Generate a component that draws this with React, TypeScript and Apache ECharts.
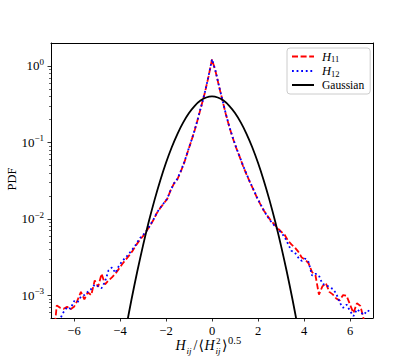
import React, { useEffect, useRef } from 'react';
import * as echarts from 'echarts';

// ---------- data ----------
const xValues = [
  -6.9, -6.75, -6.6, -6.45, -6.3, -6.15, -6.0, -5.85, -5.7, -5.55,
  -5.4, -5.25, -5.1, -4.95, -4.8, -4.65, -4.5, -4.35, -4.2, -4.05,
  -3.9, -3.75, -3.6, -3.45, -3.3, -3.15, -3.0, -2.85, -2.7, -2.55,
  -2.4, -2.25, -2.1, -1.95, -1.8, -1.65, -1.5, -1.35, -1.2, -1.05,
  -0.9, -0.75, -0.6, -0.45, -0.3, -0.15, 0,
  0.15, 0.3, 0.45, 0.6, 0.75, 0.9, 1.05, 1.2, 1.35, 1.5,
  1.65, 1.8, 1.95, 2.1, 2.25, 2.4, 2.55, 2.7, 2.85, 3.0,
  3.15, 3.3, 3.45, 3.6, 3.75, 3.9, 4.05, 4.2, 4.35, 4.5,
  4.65, 4.8, 4.95, 5.1, 5.25, 5.4, 5.55, 5.7, 5.85, 6.0,
  6.15, 6.3, 6.45, 6.6, 6.75, 6.9,
];

const h11Values = [
  2.5e-4, 7.3e-4, 6.8e-4, 6.6e-4, 7.0e-4, 6.5e-4, 7.0e-4, 8.5e-4, 1.1e-3, 8.8e-4,
  1.08e-3, 1.0e-3, 1.55e-3, 1.28e-3, 1.9e-3, 1.38e-3, 1.55e-3, 1.7e-3, 1.9e-3, 2.2e-3,
  2.55e-3, 2.9e-3, 3.3e-3, 3.8e-3, 4.5e-3, 5.2e-3, 5.9e-3, 6.9e-3, 8.0e-3, 9.6e-3,
  0.0118, 0.0138, 0.0158, 0.018, 0.0235, 0.029, 0.033, 0.042, 0.055, 0.076,
  0.104, 0.145, 0.21, 0.31, 0.46, 0.73, 1.22,
  0.86, 0.55, 0.36, 0.235, 0.16, 0.115, 0.085, 0.065, 0.049, 0.038,
  0.030, 0.024, 0.019, 0.0155, 0.0128, 0.011, 0.0095, 0.0085, 0.0075, 0.0068,
  0.0062, 0.0052, 0.0046, 0.0042, 0.0037, 0.0031, 0.0029, 0.0026, 0.0020, 0.0018,
  0.00101, 0.0013, 0.00143, 0.0011, 0.00102, 0.0009, 0.00085, 0.001, 0.00098, 0.00075,
  0.00058, 0.00078, 0.00072, 0.00048, 0.0003, 0.0002,
];

const h12Values = [
  2.0e-4, 3.6e-4, 4.9e-4, 6.0e-4, 6.9e-4, 6.6e-4, 8.3e-4, 8.0e-4, 9.5e-4, 1.0e-3,
  1.1e-3, 1.2e-3, 1.37e-3, 1.3e-3, 1.23e-3, 1.5e-3, 2.1e-3, 2.3e-3, 1.95e-3, 2.4e-3,
  2.8e-3, 3.1e-3, 3.5e-3, 4.0e-3, 4.6e-3, 5.5e-3, 6.1e-3, 6.9e-3, 8.1e-3, 9.7e-3,
  0.0119, 0.0139, 0.0159, 0.0182, 0.0236, 0.029, 0.0335, 0.0425, 0.0555, 0.0765,
  0.105, 0.146, 0.212, 0.31, 0.465, 0.74, 1.23,
  0.87, 0.555, 0.362, 0.237, 0.161, 0.116, 0.086, 0.0655, 0.0495, 0.0385,
  0.0302, 0.0242, 0.0192, 0.0156, 0.0129, 0.0108, 0.0093, 0.0082, 0.0073, 0.0066,
  0.0058, 0.0047, 0.0038, 0.0036, 0.0031, 0.0028, 0.0030, 0.0027, 0.0018, 0.0019,
  0.0018, 0.0014, 0.00135, 0.00128, 0.0012, 0.00105, 0.0008, 0.00068, 0.00075, 0.00062,
  0.00053, 0.00065, 0.0006, 0.00055, 0.00063, 0.0006,
];

const gaussX = [
  -3.75, -3.5, -3.25, -3.0, -2.75, -2.5, -2.25, -2.0, -1.75, -1.5, -1.25, -1.0, -0.75, -0.5, -0.25,
  0,
  0.25, 0.5, 0.75, 1.0, 1.25, 1.5, 1.75, 2.0, 2.25, 2.5, 2.75, 3.0, 3.25, 3.5, 3.75,
];
const gaussValues = [
  0.000353, 0.000873, 0.00203, 0.00443, 0.00909, 0.0175, 0.0317, 0.054, 0.0863, 0.1295, 0.1826, 0.242, 0.3011, 0.3521, 0.3867,
  0.3989,
  0.3867, 0.3521, 0.3011, 0.242, 0.1826, 0.1295, 0.0863, 0.054, 0.0317, 0.0175, 0.00909, 0.00443, 0.00203, 0.000873, 0.000353,
];

const xTickValues = [-6, -4, -2, 0, 2, 4, 6];
const yMajorTicks = [1e-3, 1e-2, 1e-1, 1];
const yMinorTicks = [
  6e-4, 7e-4, 8e-4, 9e-4,
  2e-3, 3e-3, 4e-3, 5e-3, 6e-3, 7e-3, 8e-3, 9e-3,
  2e-2, 3e-2, 4e-2, 5e-2, 6e-2, 7e-2, 8e-2, 9e-2,
  2e-1, 3e-1, 4e-1, 5e-1, 6e-1, 7e-1, 8e-1, 9e-1,
];
const seriesNames = ['H11', 'H12', 'Gaussian'];

const X_MIN = -7;
const X_MAX = 7;
const Y_MIN = 5e-4;
const Y_MAX = 2;

const FONT = '"Liberation Serif", "DejaVu Serif", serif';

function tickSeries(values: number[], horizontal: boolean, len: number, width: number) {
  return {
    type: 'custom',
    silent: true,
    clip: false,
    z: 10,
    data: values.map((v) => (horizontal ? [X_MIN, v] : [v, Y_MIN])),
    renderItem: (_p: any, api: any) => {
      const c = api.coord([api.value(0), api.value(1)]);
      if (horizontal) {
        const y = Math.round(c[1]) + 0.5;
        return {
          type: 'line',
          shape: { x1: c[0] - len, y1: y, x2: c[0], y2: y },
          style: { stroke: '#000', lineWidth: width },
        };
      }
      const x = Math.round(c[0]) + 0.5;
      return {
        type: 'line',
        shape: { x1: x, y1: c[1], x2: x, y2: c[1] + len },
        style: { stroke: '#000', lineWidth: width },
      };
    },
  };
}

function txt(text: string, x: number, y: number, size: number, italic: boolean, align = 'left') {
  return {
    type: 'text',
    x,
    y,
    silent: true,
    style: {
      text,
      font: `${italic ? 'italic ' : ''}${size}px ${FONT}`,
      fill: '#000',
      align,
      verticalAlign: 'middle',
    },
  };
}

export default function App() {
  const ref = useRef<HTMLDivElement>(null);

  useEffect(() => {
    if (!ref.current) return;
    const chart = echarts.init(ref.current, undefined, { renderer: 'svg' });

    const axisLineStyle = { show: true, onZero: false, lineStyle: { color: '#000', width: 1 } };

    const option: any = {
      animation: false,
      backgroundColor: '#fff',
      grid: { left: 51, right: 42, top: 43, bottom: 40, containLabel: false },
      xAxis: [
        {
          type: 'value',
          min: X_MIN,
          max: X_MAX,
          splitNumber: 7,
          axisLine: axisLineStyle,
          axisTick: { show: false },
          splitLine: { show: false },
          axisLabel: {
            show: true,
            showMinLabel: false,
            showMaxLabel: false,
            margin: 6,
            color: '#000',
            fontFamily: FONT,
            fontSize: 12.5,
            formatter: (v: number) => (v < 0 ? '\u2212' + -v : String(v)),
          },
        },
        {
          type: 'value',
          position: 'top',
          min: X_MIN,
          max: X_MAX,
          axisLine: axisLineStyle,
          axisTick: { show: false },
          axisLabel: { show: false },
          splitLine: { show: false },
        },
      ],
      yAxis: [
        {
          type: 'log',
          logBase: 10,
          min: Y_MIN,
          max: Y_MAX,
          axisLine: axisLineStyle,
          axisTick: { show: false },
          splitLine: { show: false },
          minorTick: { show: false },
          axisLabel: {
            show: true,
            showMinLabel: false,
            showMaxLabel: false,
            margin: 7,
            color: '#000',
            formatter: (v: number) => {
              const l = Math.log10(v);
              const e = Math.round(l);
              if (Math.abs(l - e) > 1e-6) return '';
              return '{b|10}{s|' + (e < 0 ? '\u2212' + -e : String(e)) + '}';
            },
            rich: {
              b: { fontFamily: FONT, fontSize: 13, lineHeight: 17, color: '#000' },
              s: { fontFamily: FONT, fontSize: 9, lineHeight: 9, verticalAlign: 'top', color: '#000' },
            },
          },
        },
        {
          type: 'log',
          logBase: 10,
          position: 'right',
          min: Y_MIN,
          max: Y_MAX,
          axisLine: axisLineStyle,
          axisTick: { show: false },
          axisLabel: { show: false },
          splitLine: { show: false },
        },
      ],
      legend: {
        data: seriesNames,
        orient: 'vertical',
        left: 287,
        top: 48,
        itemWidth: 22,
        itemHeight: 14,
        itemGap: 1,
        padding: [2, 6, 3, 4],
        backgroundColor: 'rgba(255,255,255,0.8)',
        borderColor: '#cccccc',
        borderWidth: 1,
        borderRadius: 3,
        selectedMode: false,
        itemStyle: { opacity: 0 },
        formatter: (name: string) =>
          name === 'H11' ? '{i|H}{s|11}' : name === 'H12' ? '{i|H}{s|12}' : '{n|Gaussian}',
        textStyle: {
          color: '#000',
          rich: {
            i: { fontFamily: FONT, fontStyle: 'italic', fontSize: 12.5, lineHeight: 14, color: '#000', padding: [0, 0, 0, 3] },
            s: { fontFamily: FONT, fontSize: 8.5, lineHeight: 9, verticalAlign: 'bottom', color: '#000' },
            n: { fontFamily: FONT, fontSize: 11.5, lineHeight: 14, color: '#000', padding: [0, 0, 0, 3] },
          },
        },
      },
      graphic: [
        {
          type: 'text',
          x: 12,
          y: 179,
          rotation: Math.PI / 2,
          silent: true,
          style: {
            text: 'PDF',
            font: `12.5px ${FONT}`,
            fill: '#000',
            align: 'center',
            verticalAlign: 'middle',
          },
        },
        txt('H', 175.5, 345, 14, true),
        txt('ij', 186.5, 350.5, 9, true),
        txt('/', 193.5, 345, 14, false),
        txt('\u27E8', 198.5, 345, 14, false),
        txt('H', 204.5, 345, 14, true),
        txt('2', 216, 340.8, 9, false),
        txt('ij', 215.5, 350.5, 9, true),
        txt('\u27E9', 222, 345, 14, false),
        txt('0.5', 228, 340, 10.5, false),
      ],
      series: [
        {
          name: 'H11',
          type: 'line',
          data: xValues.map((x, i) => [x, h11Values[i]]),
          symbol: 'none',
          z: 3,
          itemStyle: { color: '#ff0000' },
          lineStyle: { color: '#ff0000', width: 1.8, type: [6, 2.6], cap: 'butt' },
        },
        {
          name: 'H12',
          type: 'line',
          data: xValues.map((x, i) => [x, h12Values[i]]),
          symbol: 'none',
          z: 4,
          itemStyle: { color: '#0000ff' },
          lineStyle: { color: '#0000ff', width: 1.8, type: [1.8, 2.8], cap: 'butt' },
        },
        {
          name: 'Gaussian',
          type: 'line',
          data: gaussX.map((x, i) => [x, gaussValues[i]]),
          symbol: 'none',
          smooth: 0.3,
          z: 5,
          itemStyle: { color: '#000' },
          lineStyle: { color: '#000', width: 1.8 },
        },
        tickSeries(yMajorTicks, true, 3.5, 0.8),
        tickSeries(yMinorTicks, true, 2, 0.6),
        tickSeries(xTickValues, false, 3.5, 0.8),
      ],
    };

    chart.setOption(option);
    return () => {
      chart.dispose();
    };
  }, []);

  return (
    <div
      ref={ref}
      style={{ position: 'absolute', left: 0, top: 0, width: 415, height: 358, background: '#fff' }}
    />
  );
}
